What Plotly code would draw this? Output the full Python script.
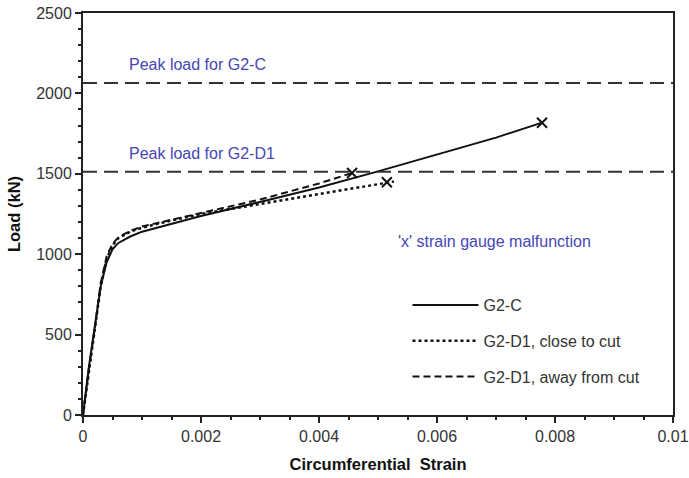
import plotly.graph_objects as go

# G2-C (solid)
c_strain = [0, 0.00005, 0.0001, 0.00018, 0.0003, 0.0004, 0.0005, 0.0006, 0.0008, 0.001,
            0.0015, 0.002, 0.003, 0.004, 0.005, 0.006, 0.007, 0.00778]
c_load = [0, 150, 300, 500, 800, 950, 1030, 1070, 1110, 1140,
          1190, 1238, 1325, 1415, 1515, 1620, 1725, 1818]

# G2-D1, close to cut (dotted)
d_close_strain = [0, 0.0001, 0.0002, 0.0003, 0.0004, 0.0005, 0.0006, 0.0008, 0.001,
                  0.0015, 0.002, 0.003, 0.004, 0.005, 0.00527]
d_close_load = [0, 270, 520, 800, 970, 1055, 1100, 1140, 1165,
                1210, 1250, 1312, 1375, 1433, 1452]

# G2-D1, away from cut (dashed)
d_away_strain = [0, 0.0001, 0.0002, 0.0003, 0.0004, 0.0005, 0.0006, 0.0008, 0.001,
                 0.0015, 0.002, 0.003, 0.004, 0.00456]
d_away_load = [0, 290, 540, 820, 985, 1065, 1105, 1145, 1172,
               1215, 1255, 1340, 1440, 1505]

# strain gauge malfunction points ('x')
x_strain = [0.00778, 0.00515, 0.00456]
x_load = [1818, 1447, 1505]

# peak loads
peak_labels = ["Peak load for G2-C", "Peak load for G2-D1"]
peak_loads = [2065, 1512]

FONT = "Liberation Sans, Arial"
fig = go.Figure()
fig.add_trace(go.Scatter(x=c_strain, y=c_load, mode="lines", name="G2-C",
                         line=dict(color="#111111", width=2), legendgroup="a"))
fig.add_trace(go.Scatter(x=d_close_strain, y=d_close_load, mode="lines",
                         name="G2-D1, close to cut",
                         line=dict(color="#111111", width=2.5, dash="dot"), legendgroup="b"))
fig.add_trace(go.Scatter(x=d_away_strain, y=d_away_load, mode="lines",
                         name="G2-D1, away from cut",
                         line=dict(color="#111111", width=2, dash="7px,4px"), legendgroup="c"))
fig.add_trace(go.Scatter(x=x_strain, y=x_load, mode="markers", showlegend=False,
                         marker=dict(symbol="x-thin", size=10,
                                     line=dict(color="#111111", width=2))))

for lab, pk in zip(peak_labels, peak_loads):
    fig.add_shape(type="line", xref="x", yref="y", x0=0, x1=0.01, y0=pk, y1=pk,
                  line=dict(color="#333333", width=2, dash="14px,7px"))
    fig.add_annotation(x=0.00075, y=pk, xref="x", yref="y", text=lab, showarrow=False,
                       xanchor="left", yanchor="bottom", yshift=8,
                       font=dict(family=FONT, size=16, color="#4646B4"))

fig.add_annotation(x=0.0053, y=1082, xref="x", yref="y",
                   text="'x' strain gauge malfunction", showarrow=False,
                   xanchor="left", yanchor="middle",
                   font=dict(family=FONT, size=16, color="#4646B4"))

axis_font = dict(family=FONT, size=16, color="#333333")
title_font = dict(family=FONT, size=16.5, color="#111111")
fig.update_xaxes(range=[0, 0.01], tickvals=[0, 0.002, 0.004, 0.006, 0.008, 0.01],
                 ticktext=["0", "0.002", "0.004", "0.006", "0.008", "0.01"],
                 automargin=False,
                 showgrid=False, zeroline=False, showline=True, linecolor="#222222",
                 linewidth=2, mirror=True, ticks="outside", ticklen=6, tickwidth=1.5,
                 tickcolor="#222222",
                 minor=dict(dtick=0.0005, ticks="outside", ticklen=3, tickcolor="#222222",
                            showgrid=False),
                 tickfont=axis_font,
                 title=dict(text="<b>Circumferential  Strain</b>", font=title_font,
                            standoff=14))
fig.update_yaxes(range=[0, 2500], tickvals=[0, 500, 1000, 1500, 2000, 2500],
                 automargin=False,
                 showgrid=False, zeroline=False, showline=True, linecolor="#222222",
                 linewidth=2, mirror=True, ticks="outside", ticklen=6, tickwidth=1.5,
                 tickcolor="#222222",
                 minor=dict(dtick=100, ticks="outside", ticklen=3, tickcolor="#222222",
                            showgrid=False),
                 tickfont=axis_font,
                 title=dict(text="<b>Load (kN)</b>", font=title_font, standoff=11))

fig.update_layout(
    width=689, height=478,
    margin=dict(l=83, r=16, t=13, b=63),
    plot_bgcolor="white", paper_bgcolor="white",
    font=dict(family=FONT, size=16, color="#333333"),
    legend=dict(x=0.55, y=0.184, xanchor="left", yanchor="middle",
                bgcolor="rgba(0,0,0,0)", itemwidth=66, tracegroupgap=12,
                font=dict(family=FONT, size=16, color="#333333")),
)

fig.write_html("out.html")
